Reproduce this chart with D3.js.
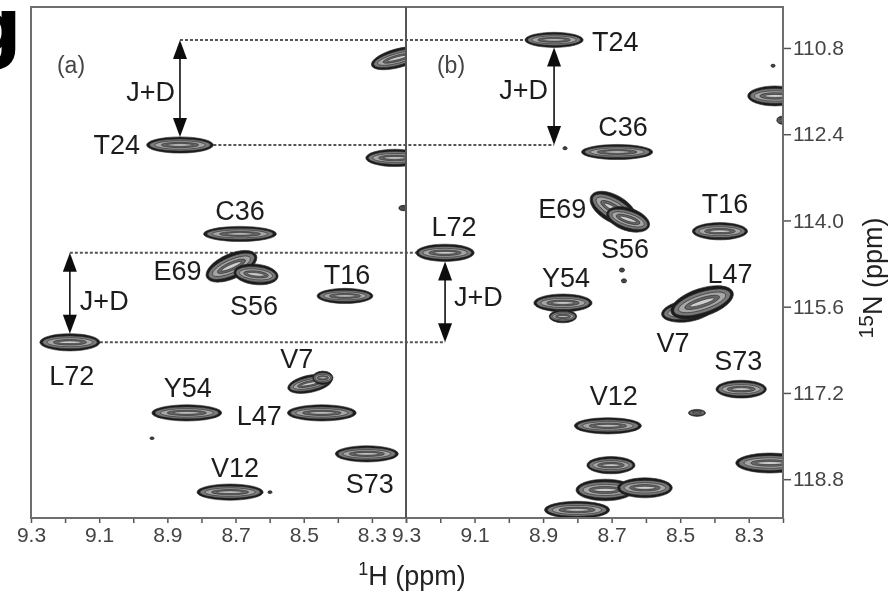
<!DOCTYPE html>
<html>
<head>
<meta charset="utf-8">
<script src="https://cdn.jsdelivr.net/npm/d3@7"></script>
<style>
body { margin: 0; background: #fff; }
svg { display: block; font-family: "Liberation Sans", Arial, sans-serif; }
</style>
</head>
<body>
<svg id="chart" width="891" height="592"></svg>
<script>
// assigned residues, same order in both spectra
var residues = ["T24", "C36", "E69", "S56", "T16", "L72", "V7", "Y54", "L47", "S73", "V12"];

// spectrum (a): 1H and 15N shifts (ppm), linewidths (ppm), tilt of the contour (deg)
var hA = [8.863, 8.687, 8.712, 8.640, 8.379, 9.186, 8.482, 8.843, 8.447, 8.315, 8.716];
var nA = [112.60, 114.25, 114.85, 115.00, 115.40, 116.26, 117.03, 117.57, 117.57, 118.33, 119.04];
var lwHA = [0.196, 0.214, 0.16, 0.13, 0.164, 0.176, 0.132, 0.205, 0.202, 0.185, 0.194];
var lwNA = [0.30, 0.28, 0.46, 0.38, 0.28, 0.32, 0.32, 0.30, 0.30, 0.30, 0.30];
var tiltA = [0, 0, -24, 6, 0, 0, -12, 0, 0, 0, 0];

// spectrum (b)
var hB = [8.868, 8.684, 8.695, 8.652, 8.384, 9.186, 8.480, 8.842, 8.436, 8.322, 8.711];
var nB = [110.65, 112.73, 113.78, 113.98, 114.20, 114.60, 115.68, 115.53, 115.52, 117.13, 117.81];
var lwHB = [0.17, 0.208, 0.15, 0.13, 0.161, 0.17, 0.15, 0.17, 0.19, 0.147, 0.196];
var lwNB = [0.28, 0.28, 0.50, 0.42, 0.32, 0.32, 0.40, 0.33, 0.52, 0.33, 0.30];
var tiltB = [0, 0, 30, 18, 0, 0, -8, 0, -18, 0, 0];

// unassigned peaks [1H, 15N, lwH, lwN, tilt]
var extraA = [
  [8.224, 110.99, 0.16, 0.35, -15], [8.233, 112.84, 0.17, 0.32, 0], [8.206, 113.77, 0.03, 0.10, 0],
  [8.945, 118.04, 0.012, 0.05, 0], [8.599, 119.04, 0.012, 0.05, 0], [8.444, 116.92, 0.06, 0.25, 0]
];
var extraB = [
  [8.223, 111.69, 0.16, 0.37, 0], [8.203, 112.14, 0.03, 0.15, 0], [8.451, 117.57, 0.05, 0.13, 0],
  [8.702, 118.54, 0.14, 0.32, 0], [8.719, 119.00, 0.17, 0.40, 0], [8.603, 118.96, 0.16, 0.37, 0],
  [8.801, 119.37, 0.19, 0.32, 0], [8.238, 118.50, 0.20, 0.37, 0], [8.842, 115.78, 0.08, 0.24, 0],
  [8.836, 112.66, 0.012, 0.06, 0], [8.229, 111.13, 0.012, 0.06, 0], [8.670, 114.92, 0.015, 0.08, 0],
  [8.664, 115.12, 0.015, 0.08, 0]
];

// residues with a J+D splitting drawn between the two spectra
var jdResidues = ["T24", "L72"];

// axis ticks
var xTicks = [9.3, 9.2, 9.1, 9.0, 8.9, 8.8, 8.7, 8.6, 8.5, 8.4, 8.3, 8.2];
var xTickLabels = [9.3, 9.1, 8.9, 8.7, 8.5, 8.3];
var yTicks = [110.8, 112.4, 114.0, 115.6, 117.2, 118.8];

// label placement (px offsets from peak centre)
var labelA = {
  T24: [-40, 9, "end"], C36: [0, -14, "middle"], E69: [-30, 14, "end"], S56: [-2, 41, "middle"],
  T16: [2, -12, "middle"], L72: [2, 43, "middle"], V7: [-13, -16, "middle"], Y54: [1, -16, "middle"],
  L47: [-40, 12, "end"], S73: [3, 39, "middle"], V12: [5, -15, "middle"]
};
var labelB = {
  T24: [38, 11, "start"], C36: [6, -16, "middle"], E69: [-27, 9, "end"], S56: [-3, 39, "middle"],
  T16: [5, -18, "middle"], L72: [9, -17, "middle"], V7: [-14, 41, "middle"], Y54: [3, -16, "middle"],
  L47: [28, -19, "middle"], S73: [-3, -19, "middle"], V12: [6, -21, "middle"]
};

var svg = d3.select("#chart");
var plotTop = 7, plotBottom = 518, plotLeft = 31, plotMid = 406, plotRight = 783;

var xA = d3.scaleLinear().domain([9.3, 8.2]).range([plotLeft, plotMid]);
var xB = d3.scaleLinear().domain([9.3, 8.2]).range([plotMid, plotRight]);
var y = d3.scaleLinear().domain([110.04, 119.52]).range([plotTop, plotBottom]);

var defs = svg.append("defs");
defs.append("filter").attr("id", "soft")
  .append("feGaussianBlur").attr("stdDeviation", 0.6);
defs.append("clipPath").attr("id", "clipA").append("rect")
  .attr("x", plotLeft).attr("y", plotTop).attr("width", plotMid - plotLeft).attr("height", plotBottom - plotTop);
defs.append("clipPath").attr("id", "clipB").append("rect")
  .attr("x", plotMid).attr("y", plotTop).attr("width", plotRight - plotMid).attr("height", plotBottom - plotTop);

var root = svg.append("g").attr("filter", "url(#soft)");

// cropped letter from the neighbouring figure
root.append("text").attr("x", -34).attr("y", 54)
  .style("font-family", "'DejaVu Sans', sans-serif").style("font-weight", "bold")
  .style("font-size", "78px").attr("fill", "#000").text("g");

// dashed connectors for the J+D splittings
var dashG = root.append("g").attr("stroke", "#555").attr("stroke-width", 2)
  .attr("stroke-dasharray", "3,2").attr("fill", "none");
jdResidues.forEach(function (r) {
  var i = residues.indexOf(r);
  dashG.append("line")
    .attr("x1", xA(hA[i])).attr("x2", xB(hB[i] + lwHB[i] / 2))
    .attr("y1", y(nB[i])).attr("y2", y(nB[i]));
  dashG.append("line")
    .attr("x1", xA(hA[i] - lwHA[i] / 2)).attr("x2", xB(hB[i]))
    .attr("y1", y(nA[i])).attr("y2", y(nA[i]));
});

// contour levels of one peak
var levels = [
  { sx: 1.00, sy: 1.00, fill: "#1c1c1c" },
  { sx: 0.91, sy: 0.74, fill: "#7a7a7a" },
  { sx: 0.76, sy: 0.52, fill: "#a6a6a6" },
  { sx: 0.56, sy: 0.33, fill: "#666" },
  { sx: 0.40, sy: 0.15, fill: "#cfcfcf" }
];

function drawPeak(g, x, h, n, lwH, lwN, tilt) {
  var rx = Math.abs(x(h - lwH / 2) - x(h));
  var ry = Math.abs(y(n + lwN / 2) - y(n));
  var p = g.append("g")
    .attr("transform", "translate(" + x(h) + "," + y(n) + ") rotate(" + tilt + ")");
  p.selectAll("ellipse").data(levels).enter().append("ellipse")
    .attr("rx", function (d) { return rx * d.sx; })
    .attr("ry", function (d) { return ry * d.sy; })
    .attr("fill", function (d) { return d.fill; })
    .attr("stroke", "#2a2a2a").attr("stroke-width", 0.6);
}

var gA = root.append("g").attr("clip-path", "url(#clipA)");
var gB = root.append("g").attr("clip-path", "url(#clipB)");

residues.forEach(function (r, i) {
  drawPeak(gA, xA, hA[i], nA[i], lwHA[i], lwNA[i], tiltA[i]);
  drawPeak(gB, xB, hB[i], nB[i], lwHB[i], lwNB[i], tiltB[i]);
});
extraA.forEach(function (d) { drawPeak(gA, xA, d[0], d[1], d[2], d[3], d[4]); });
extraB.forEach(function (d) { drawPeak(gB, xB, d[0], d[1], d[2], d[3], d[4]); });

// peak labels
var labG = root.append("g").attr("fill", "#1e1e1e").style("font-size", "27px");
residues.forEach(function (r, i) {
  var a = labelA[r], b = labelB[r];
  labG.append("text").attr("x", xA(hA[i]) + a[0]).attr("y", y(nA[i]) + a[1])
    .attr("text-anchor", a[2]).text(r);
  labG.append("text").attr("x", xB(hB[i]) + b[0]).attr("y", y(nB[i]) + b[1])
    .attr("text-anchor", b[2]).text(r);
});

// J+D arrows
var arrG = root.append("g");
function arrow(x0, y0, y1) {
  arrG.append("line").attr("x1", x0).attr("x2", x0).attr("y1", y0 + 4).attr("y2", y1 - 4)
    .attr("stroke", "#111").attr("stroke-width", 1.6);
  arrG.append("path").attr("fill", "#111")
    .attr("d", "M" + x0 + "," + y0 + "L" + (x0 - 7) + "," + (y0 + 19) + "L" + (x0 + 7) + "," + (y0 + 19) + "Z");
  arrG.append("path").attr("fill", "#111")
    .attr("d", "M" + x0 + "," + y1 + "L" + (x0 - 7) + "," + (y1 - 19) + "L" + (x0 + 7) + "," + (y1 - 19) + "Z");
}
function jdLabel(x, yy, anchor) {
  labG.append("text").attr("x", x).attr("y", yy).attr("text-anchor", anchor).text("J+D");
}
// (a): from the (b) position down to the (a) peak; (b): from the (b) peak down to the (a) position
var iT = residues.indexOf("T24"), iL = residues.indexOf("L72");
arrow(xA(hA[iT]), y(nB[iT]), y(nA[iT] - lwNA[iT] / 2));
jdLabel(xA(hA[iT]) - 5, (y(nB[iT]) + y(nA[iT])) / 2 + 9, "end");
arrow(xB(hB[iT]), y(nB[iT] + lwNB[iT] / 2), y(nA[iT]));
jdLabel(xB(hB[iT]) - 6, (y(nB[iT]) + y(nA[iT])) / 2 + 7, "end");
arrow(xA(hA[iL]), y(nB[iL]), y(nA[iL] - lwNA[iL] / 2));
jdLabel(xA(hA[iL]) + 10, (y(nB[iL]) + y(nA[iL])) / 2 + 12, "start");
arrow(xB(hB[iL]), y(nB[iL] + lwNB[iL] / 2), y(nA[iL]));
jdLabel(xB(hB[iL]) + 9, (y(nB[iL]) + y(nA[iL])) / 2 + 8, "start");

// panel tags
root.append("text").attr("x", 71).attr("y", 73).attr("text-anchor", "middle")
  .attr("fill", "#444").style("font-size", "23px").text("(a)");
root.append("text").attr("x", 451).attr("y", 73).attr("text-anchor", "middle")
  .attr("fill", "#444").style("font-size", "23px").text("(b)");

// axes
function styleAxis(g) {
  g.select(".domain").remove();
  g.selectAll(".tick line").attr("stroke", "#555").attr("stroke-width", 1.5);
  g.selectAll(".tick text").attr("fill", "#444")
    .style("font-family", "'Liberation Sans', Arial, sans-serif").style("font-size", "21px");
}
var fmtX = function (d) { return xTickLabels.indexOf(d) >= 0 ? d.toFixed(1) : ""; };
root.append("g").attr("transform", "translate(0," + plotBottom + ")")
  .call(d3.axisBottom(xA).tickValues(xTicks).tickFormat(fmtX).tickSize(5).tickPadding(4))
  .call(styleAxis);
root.append("g").attr("transform", "translate(0," + plotBottom + ")")
  .call(d3.axisBottom(xB).tickValues(xTicks).tickFormat(fmtX).tickSize(5).tickPadding(4))
  .call(styleAxis);
root.append("g").attr("transform", "translate(" + plotRight + ",0)")
  .call(d3.axisRight(y).tickValues(yTicks).tickFormat(d3.format(".1f")).tickSize(8).tickPadding(2))
  .call(styleAxis);

// frame and panel divider
root.append("rect").attr("x", plotLeft).attr("y", plotTop)
  .attr("width", plotRight - plotLeft).attr("height", plotBottom - plotTop)
  .attr("fill", "none").attr("stroke", "#6e6e6e").attr("stroke-width", 2);
root.append("line").attr("x1", plotMid).attr("x2", plotMid).attr("y1", plotTop).attr("y2", plotBottom)
  .attr("stroke", "#555").attr("stroke-width", 2);

// axis titles
var xt = root.append("text").attr("x", 412).attr("y", 585).attr("text-anchor", "middle")
  .attr("fill", "#222").style("font-size", "27px");
xt.append("tspan").attr("dy", -10).style("font-size", "18px").text("1");
xt.append("tspan").attr("dy", 10).text("H (ppm)");
var yt = root.append("text").attr("transform", "translate(882,278) rotate(-90)")
  .attr("text-anchor", "middle").attr("fill", "#222").style("font-size", "27px");
yt.append("tspan").attr("dy", -9).style("font-size", "21px").text("15");
yt.append("tspan").attr("dy", 9).text("N (ppm)");
</script>
</body>
</html>
